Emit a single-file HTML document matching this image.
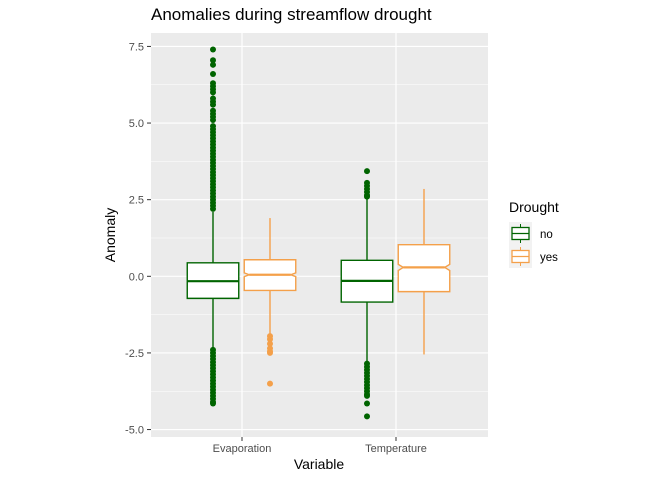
<!DOCTYPE html>
<html><head><meta charset="utf-8"><style>
body{margin:0;background:#fff;}
svg text{font-family:"Liberation Sans",Arial,sans-serif;}
</style></head><body>
<svg id="chart" width="672" height="480" xmlns="http://www.w3.org/2000/svg">
<rect width="672" height="480" fill="#fff"/>
<text x="151" y="20" font-size="17" fill="#000">Anomalies during streamflow drought</text>
<rect x="151" y="33" width="337" height="404" fill="#ebebeb"/>
<g id="grid"></g>
<g id="marks"></g>
<g id="axes"></g>
<text x="319" y="469" font-size="14" text-anchor="middle">Variable</text>
<text transform="translate(115,235) rotate(-90)" font-size="14" text-anchor="middle">Anomaly</text>
<g>
<text x="509" y="212" font-size="14">Drought</text>
<g>
<rect x="509" y="222" width="23" height="23" fill="#f2f2f2"/>
<line x1="520.5" y1="224" x2="520.5" y2="243" stroke="#006400"/>
<rect x="512" y="227.5" width="17" height="12" fill="#fff" stroke="#006400" stroke-width="1.3"/>
<line x1="512" y1="233.5" x2="529" y2="233.5" stroke="#006400" stroke-width="1.3"/>
<text x="540" y="238" font-size="11.5" fill="#000">no</text></g>
<g>
<rect x="509" y="245" width="23" height="23" fill="#f2f2f2"/>
<line x1="520.5" y1="247" x2="520.5" y2="266" stroke="#f4a04a"/>
<rect x="512" y="250.5" width="17" height="12" fill="#fff" stroke="#f4a04a" stroke-width="1.3"/>
<line x1="512" y1="256.5" x2="529" y2="256.5" stroke="#f4a04a" stroke-width="1.3"/>
<text x="540" y="261" font-size="11.5" fill="#000">yes</text></g>
</g>
</svg>
<script>
const categories=["Evaporation","Temperature"];
const groups=["no","yes"];
const yTicks=[-5,-2.5,0,2.5,5,7.5];
const yTickLabels=["-5.0","-2.5","0.0","2.5","5.0","7.5"];
const q1=[[-0.72,-0.46],[-0.84,-0.50]];
const medians=[[-0.16,0.05],[-0.15,0.29]];
const q3=[[0.44,0.54],[0.52,1.03]];
const whiskLow=[[-2.35,-1.9],[-2.8,-2.55]];
const whiskHigh=[[2.1,1.9],[2.55,2.85]];
const notchHalf=[[0.01,0.06],[0.01,0.1]];
const outEvapNo=[7.4,7.05,6.9,6.6,6.3,6.2,6.1,6.0,5.8,5.7,5.6,5.4,5.3,5.2,5.1,4.9,4.8,4.7,4.6,4.5,4.4,4.3,4.2,4.1,4.0,3.9,3.8,3.7,3.6,3.5,3.4,3.3,3.2,3.1,3.0,2.9,2.8,2.7,2.6,2.5,2.4,2.3,2.2,-2.4,-2.5,-2.6,-2.7,-2.8,-2.9,-3.0,-3.1,-3.2,-3.3,-3.4,-3.5,-3.6,-3.7,-3.8,-3.9,-4.0,-4.1,-4.15];
const outEvapYes=[-1.95,-2.05,-2.2,-2.35,-2.45,-2.5,-3.5];
const outTempNo=[3.43,3.05,2.95,2.85,2.75,2.65,2.6,-2.85,-2.95,-3.05,-3.15,-3.25,-3.35,-3.45,-3.55,-3.65,-3.75,-3.85,-3.9,-4.15,-4.57];
const outTempYes=[];
const outliers=[[outEvapNo,outEvapYes],[outTempNo,outTempYes]];
const colors=["#006400","#f4a04a"];
const NS="http://www.w3.org/2000/svg";
const y=v=>276.3-v*30.65;
const xc=i=>242+i*154;
const dodge=g=>(g===0?-29:28);
const bw=51.5;
function mk(tag,attrs,parent){const e=document.createElementNS(NS,tag);for(const k in attrs)e.setAttribute(k,attrs[k]);parent.appendChild(e);return e;}
const grid=document.getElementById('grid'),marks=document.getElementById('marks'),axes=document.getElementById('axes');
for(let i=0;i<yTicks.length-1;i++){const v=(yTicks[i]+yTicks[i+1])/2;
const l=mk('line',{x1:151,x2:488,y1:y(v),y2:y(v),stroke:'#fff','stroke-width':0.6},grid);

}
yTicks.forEach((t,i)=>{const l=mk('line',{x1:151,x2:488,y1:y(t),y2:y(t),stroke:'#fff','stroke-width':1.2},grid);


mk('line',{x1:147,x2:151,y1:y(t),y2:y(t),stroke:'#333','stroke-width':1},axes);
const tx=mk('text',{x:144,y:y(t)+4,'font-size':11,'text-anchor':'end',fill:'#4d4d4d'},axes);tx.textContent=yTickLabels[i];

});
categories.forEach((c,i)=>{const l=mk('line',{x1:xc(i),x2:xc(i),y1:33,y2:437,stroke:'#fff','stroke-width':1.2},grid);


mk('line',{x1:xc(i),x2:xc(i),y1:437,y2:441,stroke:'#333'},axes);
const tx=mk('text',{x:xc(i),y:452,'font-size':11,'text-anchor':'middle',fill:'#4d4d4d'},axes);tx.textContent=c;


groups.forEach((g,j)=>{const cx=xc(i)+dodge(j),col=colors[j];
const grp=mk('g',{},marks);


mk('line',{x1:cx,x2:cx,y1:y(q3[i][j]),y2:y(whiskHigh[i][j]),stroke:col,'stroke-width':1.4},grp);
mk('line',{x1:cx,x2:cx,y1:y(q1[i][j]),y2:y(whiskLow[i][j]),stroke:col,'stroke-width':1.4},grp);
const L=cx-bw/2,R=cx+bw/2,m=medians[i][j],n=notchHalf[i][j],ind=j===1?5:0.5;
const pts=[[L,y(q3[i][j])],[R,y(q3[i][j])],[R,y(m+n)],[R-ind,y(m)],[R,y(m-n)],[R,y(q1[i][j])],[L,y(q1[i][j])],[L,y(m-n)],[L+ind,y(m)],[L,y(m+n)]];
mk('polygon',{points:pts.map(p=>p.join(',')).join(' '),fill:'#fff',stroke:col,'stroke-width':1.4},grp);
mk('line',{x1:L+ind,x2:R-ind,y1:y(m),y2:y(m),stroke:col,'stroke-width':2.2},grp);
outliers[i][j].forEach(v=>{const d=mk('circle',{cx:cx,cy:y(v),r:3,fill:col},grp);

});
});});
</script>
</body></html>
